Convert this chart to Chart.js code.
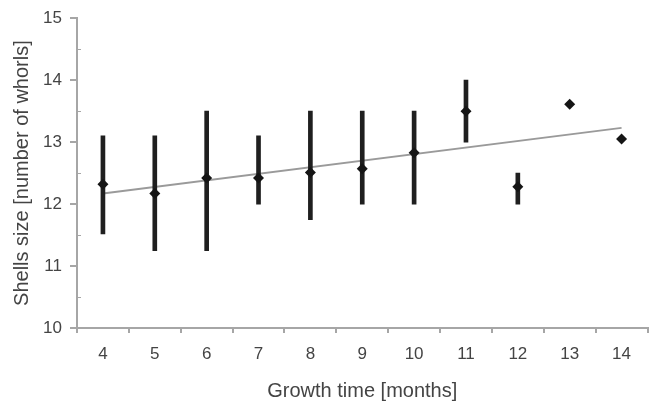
<!DOCTYPE html>
<html>
<head>
<meta charset="utf-8">
<script src="https://cdn.jsdelivr.net/npm/chart.js@4"></script>
<style>
  html, body { margin: 0; padding: 0; background: #fff; }
  #wrap { width: 653px; height: 405px; }
</style>
</head>
<body>
<div id="wrap"><canvas id="chart" width="653" height="405"></canvas></div>
<script>
// growth time categories (months)
const months = ['4', '5', '6', '7', '8', '9', '10', '11', '12', '13', '14'];
// mean shell size (number of whorls)
const meanSize = [12.32, 12.17, 12.42, 12.42, 12.51, 12.57, 12.83, 13.5, 12.28, 13.61, 13.05];
// error bar ends
const lowSize = [11.52, 11.25, 11.25, 12.0, 11.75, 12.0, 12.0, 13.0, 12.0, null, null];
const highSize = [13.1, 13.1, 13.5, 13.1, 13.5, 13.5, 13.5, 14.0, 12.5, null, null];
// linear trend end points (at 4 and 14 months)
const trendStart = 12.17;
const trendEnd = 13.23;
const yTicks = [10, 11, 12, 13, 14, 15];

const errorRanges = lowSize.map((lo, i) => (lo === null ? null : [lo, highSize[i]]));
const trendData = months.map((m, i) => (i === 0 ? trendStart : i === months.length - 1 ? trendEnd : null));

const axisGrey = '#a6a6a6';
const textGrey = '#444';
const font = 'Liberation Sans, Arial, sans-serif';

// small inward ticks at the half units of the y axis
const minorTicks = {
    id: 'minorTicks',
    afterDraw(chart) {
        const y = chart.scales.y;
        const ctx = chart.ctx;
        ctx.save();
        ctx.strokeStyle = axisGrey;
        ctx.lineWidth = 1;
        for (let v = 10.5; v < 15; v += 1) {
            const py = Math.round(y.getPixelForValue(v)) + 0.5;
            ctx.beginPath();
            ctx.moveTo(y.right, py);
            ctx.lineTo(y.right + 4, py);
            ctx.stroke();
        }
        ctx.restore();
    }
};

new Chart(document.getElementById('chart'), {
    data: {
        labels: months,
        datasets: [
            {
                type: 'line',
                data: meanSize,
                showLine: false,
                pointStyle: 'rectRot',
                pointRadius: 5.5,
                pointBackgroundColor: '#151515',
                pointBorderColor: '#151515',
                pointBorderWidth: 0,
                order: 0
            },
            {
                type: 'bar',
                data: errorRanges,
                backgroundColor: '#1f1f1f',
                barThickness: 4,
                grouped: false,
                order: 1
            },
            {
                type: 'line',
                data: trendData,
                spanGaps: true,
                borderColor: '#9a9a9a',
                borderWidth: 2,
                pointRadius: 0,
                order: 2
            }
        ]
    },
    options: {
        responsive: false,
        animation: false,
        layout: { padding: { top: 5, right: 5, left: 4, bottom: 0 } },
        plugins: {
            legend: { display: false },
            tooltip: { enabled: false }
        },
        scales: {
            x: {
                type: 'category',
                offset: true,
                afterFit: (scale) => { scale.height = 77; },
                border: { color: axisGrey, width: 2 },
                grid: { offset: true, drawOnChartArea: false, tickLength: 5, color: axisGrey, lineWidth: 2 },
                ticks: { color: textGrey, font: { family: font, size: 17 }, padding: 11, maxRotation: 0 },
                title: {
                    display: true,
                    text: 'Growth time [months]',
                    color: textGrey,
                    font: { family: font, size: 20 },
                    padding: { top: 4, bottom: 2 }
                }
            },
            y: {
                min: 10,
                max: 15,
                afterBuildTicks: (scale) => { scale.ticks = yTicks.map(v => ({ value: v })); },
                afterFit: (scale) => { scale.width = 73; },
                border: { color: axisGrey, width: 2 },
                grid: { drawOnChartArea: false, tickLength: 7, color: axisGrey, lineWidth: 2 },
                ticks: { color: textGrey, font: { family: font, size: 17 }, padding: 8 },
                title: {
                    display: true,
                    text: 'Shells size [number of whorls]',
                    color: textGrey,
                    font: { family: font, size: 20 },
                    padding: { top: 6, bottom: 6 }
                }
            }
        }
    },
    plugins: [minorTicks]
});
</script>
</body>
</html>
